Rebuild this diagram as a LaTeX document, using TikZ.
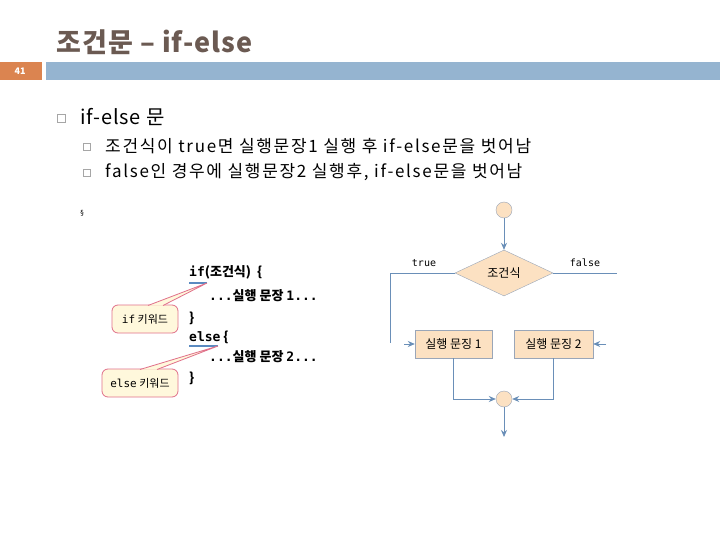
\documentclass[tikz,border=0pt]{standalone}
\usepackage{fontspec}
\setmainfont{Noto Sans CJK KR}
\newfontfamily\kr{Noto Sans CJK KR}
\newfontfamily\krwide[LetterSpace=10]{Noto Sans CJK KR}
\newfontfamily\krtitle[LetterSpace=4]{Noto Sans CJK KR}
\newfontfamily\mono{DejaVu Sans Mono}
\newfontfamily\dv{DejaVu Sans}
\usetikzlibrary{shapes.geometric,arrows.meta}
\definecolor{titlec}{HTML}{6B5A52}
\definecolor{orangebar}{HTML}{DB8450}
\definecolor{bluebar}{HTML}{95B4D0}
\definecolor{flowline}{HTML}{6A8FB8}
\definecolor{peach}{HTML}{FCE1C2}
\definecolor{boxedge}{HTML}{9AA6B8}
\definecolor{calfill}{HTML}{FFF8DC}
\definecolor{caledge}{HTML}{E0708A}
\definecolor{ulblue}{HTML}{5A8AC0}
\tikzset{
  bulletsq/.style={draw=gray!70, minimum size=7pt, inner sep=0pt},
  bodytext/.style={anchor=west, inner sep=0pt, font=\krwide\fontsize{17}{19}\selectfont},
  codetext/.style={anchor=west, inner sep=0pt, font=\fontsize{13}{15}\selectfont\bfseries},
  flowbox/.style={draw=boxedge, fill=peach, minimum width=#1, minimum height=28pt, inner sep=0pt, font=\fontsize{12}{14}\selectfont},
  flowcirc/.style={circle, draw=boxedge, fill=peach, minimum size=16pt, inner sep=0pt},
  flowarr/.style={draw=flowline, line width=0.8pt, -{Stealth[length=7pt,width=6pt]}},
  flowln/.style={draw=flowline, line width=0.8pt},
  callout/.style={draw=caledge, fill=calfill, rounded corners=6pt, line width=0.8pt, minimum height=28pt, inner sep=0pt, font=\fontsize{11}{13}\selectfont},
  lbl/.style={inner sep=0pt, font=\mono\fontsize{10}{12}\selectfont},
}
\begin{document}
\begin{tikzpicture}[x=1pt,y=-1pt]
\useasboundingbox (0,0) rectangle (720,540);
\fill[white] (0,0) rectangle (720,540);
% title and bars
\node[anchor=west, inner sep=0pt, text=titlec, font=\krtitle\fontsize{27}{30}\selectfont\bfseries] (title) at (56,42) {조건문 – if-else};
\fill[orangebar] (0,62) rectangle (42,80);
\node[text=white, font=\fontsize{9}{10}\selectfont\bfseries, inner sep=0pt] (pnum) at (20,71) {41};
\fill[bluebar] (46,62) rectangle (720,80);
% bullets
\node[bulletsq, minimum size=8pt] (b0) at (61,118) {};
\node[anchor=west, inner sep=0pt, font=\krtitle\fontsize{20}{22}\selectfont] (t0) at (80,117) {if-else 문};
\node[bulletsq] (b1) at (87,147) {};
\node[bodytext] (t1) at (105,146) {조건식이 true면 실행문장1 실행 후 if-else문을 벗어남};
\node[bulletsq] (b2) at (87,173) {};
\node[bodytext] (t2) at (105,172) {false인 경우에 실행문장2 실행후, if-else문을 벗어남};
\node[inner sep=0pt, font=\dv\fontsize{7}{8}\selectfont] (glyph) at (82,213) {§};
% code
\node[codetext] (c1) at (189,272) {{\mono if}({\kr 조건식})~~\{};
\node[codetext] (c2) at (209,296) {{\mono ...}실행 문장 {\mono 1...}};
\node[codetext] (c3) at (189,318) {\}};
\node[codetext] (c4) at (189,337) {{\mono else} \{};
\node[codetext] (c5) at (209,357) {{\mono ...}실행 문장 {\mono 2...}};
\node[codetext] (c6) at (189,378) {\}};
\coordinate (u1a) at (189,283);
\coordinate (u1b) at (207,283);
\coordinate (u2a) at (189,346);
\coordinate (u2b) at (218,346);
\draw[ulblue, line width=1.6pt] (u1a) -- (u1b);
\draw[ulblue, line width=1.6pt] (u2a) -- (u2b);
% callouts
\node[callout, minimum width=66pt] (k1) at (145,319) {{\mono if} 키워드};
\node[callout, minimum width=76pt] (k2) at (140,383) {{\mono else} 키워드};
\coordinate (w1a) at (148,305.5);
\coordinate (w1b) at (163,305.5);
\coordinate (w2a) at (140,369.5);
\coordinate (w2b) at (157,369.5);
\fill[calfill] (w1a) -- (u1b) -- (w1b) -- cycle;
\draw[caledge, line width=0.8pt] (w1a) -- (u1b) -- (w1b);
\fill[calfill] (w2a) -- (u2b) -- (w2b) -- cycle;
\draw[caledge, line width=0.8pt] (w2a) -- (u2b) -- (w2b);
% flowchart
\node[flowcirc] (start) at (504,210) {};
\node[diamond, draw=boxedge, fill=peach, minimum width=98pt, minimum height=46pt, inner sep=0pt, font=\fontsize{12}{14}\selectfont] (cond) at (504,273) {조건식};
\node[flowbox=77pt] (s1) at (453.5,344) {실행 문징 1};
\node[flowbox=79pt] (s2) at (553.5,344) {실행 문징 2};
\node[flowcirc] (end) at (504,399) {};
\coordinate (tl) at (390,273);
\coordinate (tb) at (390,343);
\coordinate (fr) at (617,273);
\coordinate (ta) at (404,344);
\coordinate (fa) at (606,344);
\coordinate (out) at (504,437);
\node[lbl] (ltrue) at (424,263) {true};
\node[lbl] (lfalse) at (585,263) {false};
\draw[flowarr] (start) -- (cond.north);
\draw[flowln] (cond.west) -- (tl) -- (tb);
\draw[flowln] (cond.east) -- (fr);
\draw[flowarr] (ta) -- (s1.west);
\draw[flowarr] (fa) -- (s2.east);
\draw[flowarr] (s1.south) |- (end.west);
\draw[flowarr] (s2.south) |- (end.east);
\draw[flowarr] (end.south) -- (out);
\end{tikzpicture}
\end{document}
